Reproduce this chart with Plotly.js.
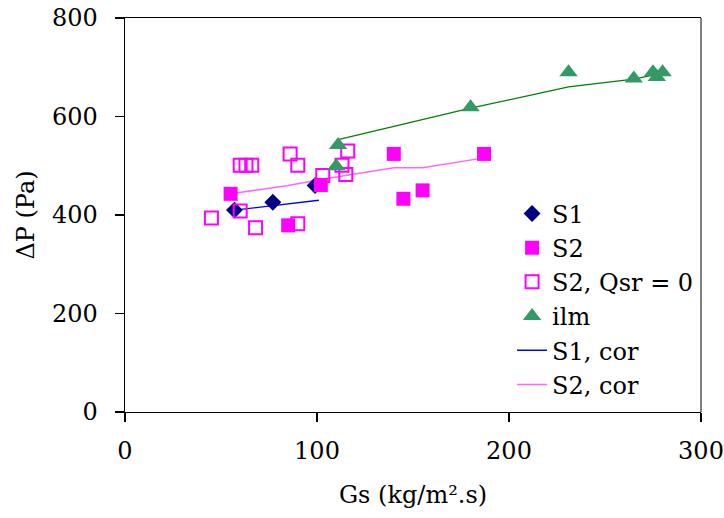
<!DOCTYPE html>
<html>
<head>
<meta charset="utf-8">
<script src="https://cdn.plot.ly/plotly-3.0.1.min.js"></script>
<style>html,body{margin:0;padding:0;background:#fff;}#chart{width:724px;height:518px;}</style>
</head>
<body>
<div id="chart"></div>
<script>
// Data
const s1X = [57, 77, 99];
const s1Y = [410, 426, 460];

const s2X = [55, 85, 102, 140, 145, 155, 187];
const s2Y = [443, 379, 461, 524, 433, 450, 524];

const s2q0X = [45, 60, 68, 60, 63, 66, 86, 90, 90, 103, 116, 113, 115];
const s2q0Y = [394, 408, 374, 501, 501, 501, 524, 501, 382, 480, 530, 501, 482];

const ilmX = [111, 110, 180, 231, 265, 275, 277, 280];
const ilmY = [542, 499, 619, 690, 677, 690, 680, 690];

const s1corX = [57, 77, 101];
const s1corY = [410, 419, 430];

const s2corX = [55, 85, 102, 140, 145, 155, 187];
const s2corY = [443, 460, 472, 496, 496, 496, 516];

const ilmcorX = [111, 180, 231, 265, 275, 278];
const ilmcorY = [553, 617, 660, 676, 684, 686];

const xTicks = [0, 100, 200, 300];
const yTicks = [0, 200, 400, 600, 800];

const FONT = "DejaVu Serif";

const traces = [
  {x: ilmcorX, y: ilmcorY, mode: 'lines', name: 'ilm, cor', showlegend: false,
   line: {color: '#008000', width: 1.3}},
  {x: s1corX, y: s1corY, mode: 'lines', name: 'S1, cor', showlegend: false,
   line: {color: '#0000FF', width: 1.3}},
  {x: s2corX, y: s2corY, mode: 'lines', name: 'S2, cor', showlegend: false,
   line: {color: '#FF66FF', width: 1.5}},
  {x: s1X, y: s1Y, mode: 'markers', name: 'S1',
   marker: {symbol: 'diamond', size: 13, color: '#000080'}},
  {x: s2X, y: s2Y, mode: 'markers', name: 'S2',
   marker: {symbol: 'square', size: 14, color: '#FF00FF'}},
  {x: s2q0X, y: s2q0Y, mode: 'markers', name: 'S2, Qsr = 0',
   marker: {symbol: 'square-open', size: 13, color: '#FF00FF', line: {width: 2, color: '#FF00FF'}}},
  {x: ilmX, y: ilmY, mode: 'markers', name: 'ilm',
   marker: {symbol: 'triangle-up', size: 16, color: '#339966'}},
  {x: [null], y: [null], mode: 'lines', name: 'S1, cor', line: {color: '#0000FF', width: 1.3}},
  {x: [null], y: [null], mode: 'lines', name: 'S2, cor', line: {color: '#FF66FF', width: 1.5}}
];

const layout = {
  width: 724, height: 518,
  margin: {l: 124.5, r: 23, t: 17.5, b: 106.3, pad: 0},
  paper_bgcolor: '#fff', plot_bgcolor: '#fff',
  font: {family: FONT, size: 24, color: '#000'},
  showlegend: true,
  legend: {x: 0.672, y: 0.56, xanchor: 'left', yanchor: 'top',
           bgcolor: 'rgba(0,0,0,0)', font: {family: FONT, size: 24, color: '#000'},
           tracegroupgap: 0},
  xaxis: {
    range: [0, 300], tickvals: xTicks, ticktext: xTicks.map(String),
    showgrid: false, zeroline: false, showline: true, linecolor: '#000', linewidth: 1.3,
    mirror: true, ticks: 'outside', ticklen: 9, tickcolor: '#000', tickwidth: 1.3,
    ticklabelstandoff: 8,
    tickfont: {family: FONT, size: 24},
    title: {text: 'Gs (kg/m\u00B2.s)', font: {family: FONT, size: 24}, standoff: 22}
  },
  yaxis: {
    range: [0, 800], tickvals: yTicks, ticktext: yTicks.map(String),
    showgrid: false, zeroline: false, showline: true, linecolor: '#000', linewidth: 1.3,
    mirror: false, ticks: 'outside', ticklen: 9, tickcolor: '#000', tickwidth: 1.3,
    ticklabelstandoff: 12,
    tickfont: {family: FONT, size: 24},
    title: {text: '\u0394P (Pa)', font: {family: FONT, size: 24}, standoff: 10}
  },
  shapes: [
    {type: 'line', xref: 'paper', yref: 'paper', x0: 1, x1: 1, y0: 0, y1: 1,
     line: {color: '#808080', width: 2}}
  ]
};

Plotly.newPlot('chart', traces, layout, {staticPlot: true, displayModeBar: false});
</script>
</body>
</html>
